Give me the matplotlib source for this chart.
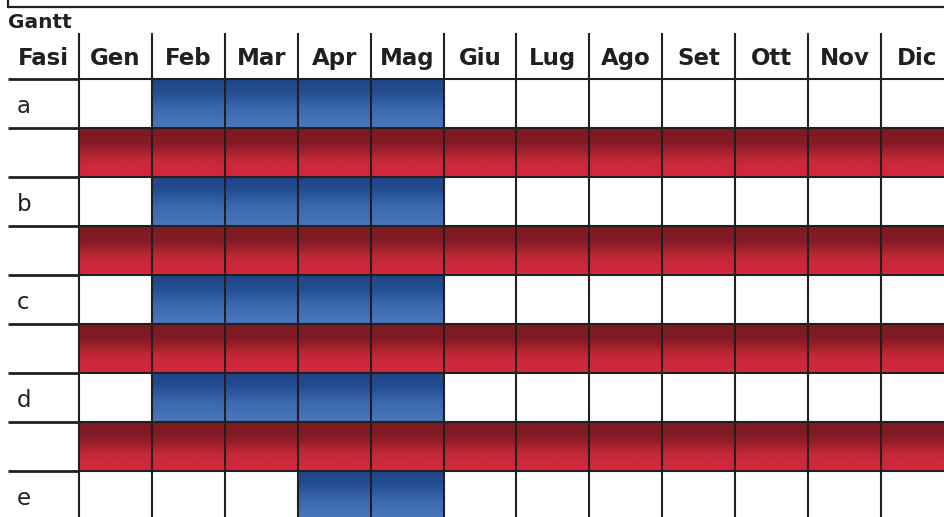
import numpy as np
import matplotlib.pyplot as plt
from matplotlib.colors import LinearSegmentedColormap

title = "Gantt"
first_header = "Fasi"
months = ["Gen", "Feb", "Mar", "Apr", "Mag", "Giu", "Lug", "Ago", "Set", "Ott", "Nov", "Dic"]
# each phase row is followed by a red row (except the last one)
phases = ["a", "b", "c", "d", "e"]
phase_months = [
    ["Feb", "Mar", "Apr", "Mag"],
    ["Feb", "Mar", "Apr", "Mag"],
    ["Feb", "Mar", "Apr", "Mag"],
    ["Feb", "Mar", "Apr", "Mag"],
    ["Apr", "Mag"],
]
red_months = months

# layout in pixels
left = 8
first_w = 71
col_w = 72.9
header_top = 34
header_h = 45
row_h = 49
line_c = "#231f20"

blue = LinearSegmentedColormap.from_list("b", [(0, "#1f4687"), (0.25, "#224d90"),
                                              (0.6, "#3c68b0"), (1, "#4a77bc")])
red = LinearSegmentedColormap.from_list("r", [(0, "#7c1a22"), (0.3, "#841b25"),
                                             (0.65, "#c42836"), (1, "#d6283d")])
grad = np.linspace(0, 1, 64).reshape(-1, 1)

fig = plt.figure(figsize=(9.44, 5.17), dpi=100)
ax = fig.add_axes([0, 0, 1, 1])
ax.set_xlim(0, 944)
ax.set_ylim(517, 0)
ax.axis("off")

# top frame
ax.plot([left, 944], [7, 7], color=line_c, lw=1.6, solid_capstyle="butt")
ax.plot([left, left], [0, 7], color=line_c, lw=1.6)

ax.text(left, 28, title, fontsize=14.5, fontweight="bold", color="#231f20",
        va="baseline", ha="left")

def col_x(i):
    return left + first_w + i * col_w

# header
ax.text(left + first_w / 2, header_top + 31, first_header, fontsize=16.5,
        fontweight="bold", color="#231f20", ha="center", va="baseline")
for i, m in enumerate(months):
    ax.text(col_x(i) + col_w / 2, header_top + 31, m, fontsize=16.5,
            fontweight="bold", color="#231f20", ha="center", va="baseline")

# rows
rows = []
for k, p in enumerate(phases):
    rows.append((p, phase_months[k], blue))
    if k < len(phases) - 1:
        rows.append(("", red_months, red))

y = header_top + header_h
for label, active, cmap in rows:
    for i, m in enumerate(months):
        if m in active:
            ax.imshow(grad, cmap=cmap, extent=[col_x(i), col_x(i) + col_w, y + row_h, y],
                      aspect="auto", interpolation="bilinear", zorder=1)
    if label:
        ax.text(left + 9, y + 34, label, fontsize=16.5, color="#231f20",
                ha="left", va="baseline")
    y += row_h

n_rows = len(rows)
bottom = header_top + header_h + n_rows * row_h
# horizontal lines
for r in range(n_rows + 1):
    yy = header_top + header_h + r * row_h
    ax.plot([left, col_x(0)], [yy, yy], color=line_c, lw=2.0, zorder=3, solid_capstyle="butt")
    ax.plot([col_x(0), 944], [yy, yy], color=line_c, lw=1.5, zorder=3, solid_capstyle="butt")
# vertical lines
for i in range(len(months)):
    ax.plot([col_x(i), col_x(i)], [header_top, bottom], color=line_c, lw=1.5, zorder=3)

ax.set_xlim(0, 944)
ax.set_ylim(517, 0)
fig.savefig("out.png", dpi=100)
